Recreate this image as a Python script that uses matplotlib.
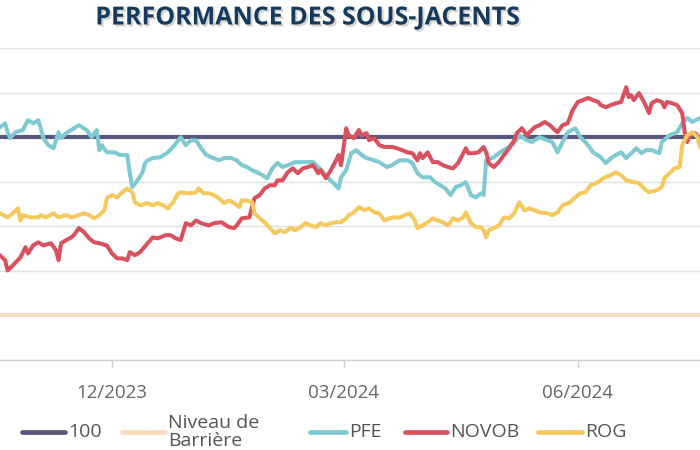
import matplotlib
matplotlib.use("Agg")
import matplotlib.pyplot as plt
import matplotlib.patheffects as pe
from matplotlib.lines import Line2D
import pandas as pd

plt.rcParams['font.family'] = ['Open Sans', 'DejaVu Sans']

START = pd.Timestamp('2023-10-18')

pfe_days = [0, 2, 3, 4, 6, 9, 11, 13, 15, 16, 17, 19, 21, 23, 24, 26, 28, 31, 34, 36, 38, 39, 40, 42, 45, 47, 50, 51, 52, 54, 56, 57, 58, 60, 63, 66, 68, 71,
            73, 75, 77, 79, 81, 83, 86, 88, 91, 93, 95, 97, 99, 101, 103, 105, 107, 109, 111, 113, 116, 119, 121, 123, 125, 127, 129, 131, 133, 134, 136, 138,
            140, 142, 144, 147, 149, 152, 154, 157, 160, 162, 164, 166, 169, 171, 173, 175, 177, 179, 181, 183, 185, 187, 189, 190, 191, 194, 196, 199, 202, 204, 207,
            209, 212, 215, 217, 219, 221, 223, 226, 228, 231, 233, 236, 238, 240, 242, 244, 246, 248, 250, 252, 254, 256, 259, 260, 263, 266, 268, 270, 272, 275]
pfe_vals = [102.2, 103.1, 101.1, 99.8, 101.1, 101.6, 103.8, 103.1, 103.8, 102.0, 99.8, 98.2, 97.5, 101.1, 99.8, 100.9, 101.6, 102.7, 101.6, 100.0, 101.6, 97.1, 98.2, 96.6, 96.6, 96.0, 96.0, 91.9, 88.8, 90.3, 92.1, 94.2, 94.8, 95.3, 95.5, 96.6, 97.8, 100.0,
            98.2, 99.3, 99.3, 97.5, 96.0, 95.5, 94.8, 95.3, 95.3, 94.8, 93.7, 93.3, 92.6, 92.1, 91.5, 90.8, 93.0, 94.2, 93.3, 93.7, 94.4, 94.4, 94.4, 94.4, 93.3, 92.1, 90.8, 89.7, 88.5, 91.0, 92.6, 96.4,
            97.1, 96.0, 95.3, 94.8, 94.4, 93.3, 93.7, 94.8, 94.8, 94.2, 91.9, 91.0, 91.0, 89.9, 89.2, 88.5, 87.0, 88.8, 89.2, 89.9, 87.0, 86.5, 87.4, 87.0, 94.8, 95.5, 96.4, 97.5, 98.7, 100.4, 99.3,
            98.9, 100.0, 99.3, 98.9, 96.6, 98.9, 101.1, 102.0, 100.0, 98.2, 96.6, 95.5, 94.2, 95.3, 96.0, 96.6, 95.3, 96.4, 97.5, 96.4, 97.1, 97.1, 96.4, 98.9, 100.4, 101.1, 103.1, 104.3, 103.4, 104.3]

novob_days = [0, 2, 3, 5, 8, 10, 11, 13, 15, 17, 20, 22, 23, 24, 26, 28, 29, 31, 33, 35, 37, 39, 42, 44, 46, 48, 50, 51, 53, 55, 58, 60, 62, 65, 67, 69, 71,
              73, 75, 77, 79, 82, 84, 87, 90, 92, 93, 95, 98, 99, 100, 102, 104, 106, 108, 109, 111, 113, 115, 117, 119, 121, 123, 125, 126, 128, 130, 132, 133, 134, 136, 137,
              139, 141, 142, 144, 145, 147, 149, 151, 154, 156, 158, 160, 162, 164, 165, 166, 168, 170, 172, 174, 176, 178, 180, 181, 183, 184, 186, 188, 190, 191, 192, 194, 196, 198, 200, 202, 203, 205, 207,
              208, 210, 212, 214, 216, 218, 219, 221, 223, 225, 227, 229, 231, 233, 235, 236, 238, 240, 242, 244, 246, 247, 248, 249, 251, 253, 255, 256, 258, 260, 261, 262, 264, 266, 268, 269, 270, 271, 273, 275]
novob_vals = [73.5, 72.4, 70.1, 71.2, 73.0, 75.3, 73.9, 75.7, 76.4, 75.7, 76.2, 74.6, 72.4, 76.2, 76.9, 77.5, 78.0, 79.6, 78.7, 77.3, 76.4, 76.2, 75.7, 73.9, 72.8, 72.8, 72.4, 74.2, 73.5, 74.2, 76.2, 77.5, 77.3, 78.0, 78.0, 77.3, 76.9,
              80.7, 80.2, 81.3, 80.7, 80.2, 80.7, 80.9, 79.8, 79.6, 80.2, 81.8, 82.0, 84.3, 86.3, 87.0, 88.5, 89.2, 89.2, 90.3, 90.3, 92.1, 93.0, 91.9, 93.0, 93.3, 93.7, 91.9, 92.6, 90.8, 92.6, 94.8, 96.0, 93.7, 102.0, 100.4,
              99.8, 101.6, 100.4, 100.9, 99.3, 99.8, 98.2, 97.8, 97.8, 97.5, 97.1, 96.6, 96.4, 94.8, 96.4, 95.3, 96.6, 94.4, 94.4, 93.7, 93.3, 93.0, 94.2, 95.3, 97.5, 96.4, 96.4, 96.6, 97.8, 96.6, 94.2, 93.3, 94.4, 96.0, 97.5, 99.3, 100.9, 102.0, 100.4,
              101.1, 102.2, 102.7, 103.4, 102.7, 101.6, 101.1, 102.7, 103.1, 106.1, 107.9, 108.3, 108.8, 108.3, 107.9, 107.2, 106.7, 107.2, 107.6, 107.9, 111.2, 109.0, 109.4, 108.3, 109.9, 107.9, 105.4, 107.6, 108.3, 107.9, 106.7, 107.9, 107.6, 107.2, 105.4, 101.1, 98.9, 100.4, 100.9, 99.8]

rog_days = [0, 3, 5, 7, 8, 9, 12, 15, 16, 18, 21, 23, 26, 28, 31, 33, 35, 37, 39, 41, 42, 44, 46, 48, 50, 52, 53, 55, 58, 60, 62, 64, 66, 68, 70,
            71, 74, 77, 78, 80, 82, 84, 86, 88, 90, 92, 94, 95, 97, 99, 100, 102, 104, 106, 108, 110, 112, 114, 116, 118, 120, 122, 124, 126, 128, 130, 132, 134, 136, 137,
            139, 141, 143, 145, 147, 149, 151, 153, 155, 157, 159, 161, 163, 164, 166, 168, 170, 172, 174, 176, 178, 180, 182, 183, 185, 187, 189, 190, 191, 192, 194, 196, 198, 200, 202, 204,
            206, 208, 210, 212, 215, 217, 219, 221, 224, 226, 228, 230, 232, 235, 237, 240, 242, 244, 246, 249, 251, 253, 255, 258, 260, 261, 263, 265, 267, 268, 270, 272, 274, 275]
rog_vals = [82.9, 82.0, 82.9, 84.0, 81.3, 82.5, 82.0, 82.0, 82.5, 82.0, 82.9, 82.0, 82.5, 82.0, 82.5, 82.9, 82.5, 81.8, 82.5, 83.6, 86.3, 87.0, 86.5, 87.6, 88.5, 87.6, 85.4, 84.7, 85.2, 84.7, 85.2, 84.7, 84.0, 85.4, 87.4,
            87.6, 87.4, 87.6, 88.5, 87.4, 87.4, 87.0, 86.3, 85.2, 85.8, 85.2, 84.3, 85.8, 85.8, 85.4, 82.9, 81.8, 80.9, 79.6, 78.4, 79.1, 78.7, 79.6, 79.1, 79.8, 80.7, 80.2, 79.8, 80.7, 80.2, 80.7, 80.9, 80.9, 81.8, 82.5,
            83.1, 84.3, 83.6, 84.0, 83.1, 82.9, 81.3, 81.8, 82.0, 82.0, 82.5, 82.9, 81.3, 79.6, 80.2, 80.9, 81.8, 81.3, 80.9, 80.2, 81.8, 81.3, 82.0, 83.1, 80.7, 79.8, 79.8, 79.1, 77.5, 79.1, 79.6, 80.2, 82.0, 81.8, 82.9, 85.4,
            83.6, 84.0, 83.6, 83.1, 82.9, 82.5, 83.1, 84.7, 85.4, 86.5, 87.4, 87.6, 89.2, 89.9, 90.8, 91.5, 92.1, 91.5, 90.3, 89.9, 89.7, 88.5, 87.6, 88.1, 88.8, 90.8, 91.9, 93.0, 93.3, 98.2, 100.4, 101.1, 100.0, 97.8]

reference_level = 100
barrier_level = 60
y_ticks = [50, 60, 70, 80, 90, 100, 110, 120]
x_tick_dates = ['2023-12-01', '2024-03-01', '2024-06-01']
x_tick_labels = ['12/2023', '03/2024', '06/2024']

title = 'PERFORMANCE DES SOUS-JACENTS'
legend_labels = ['100', 'Niveau de\nBarrière', 'PFE', 'NOVOB', 'ROG']

C_REF = '#58587a'
C_BAR = '#f7dcc0'
C_PFE = '#7fc9d1'
C_NOVO = '#d9505e'
C_ROG = '#f5c95e'

def to_dates(days):
    return START + pd.to_timedelta(days, unit='D')

fig = plt.figure(figsize=(7, 4.5), dpi=100)
ax = fig.add_axes([0, 0.2, 1, 0.6933])

ax.set_xlim(START, START + pd.Timedelta(days=275))
ax.set_ylim(50, 120)
ax.set_yticks(y_ticks)
ax.yaxis.grid(True, color='#e0e0e0', lw=1)
ax.set_axisbelow(True)
ax.tick_params(axis='y', left=False, labelleft=False)
for s in ['top', 'left', 'right']:
    ax.spines[s].set_visible(False)
ax.spines['bottom'].set_color('#d0d0d0')
ax.spines['bottom'].set_linewidth(1)

ax.set_xticks(pd.to_datetime(x_tick_dates))
ax.set_xticklabels(x_tick_labels)
ax.tick_params(axis='x', length=6, color='#d0d0d0', width=1, pad=11,
               labelsize=13.5, labelcolor='#666666')

ax.axhline(reference_level, color=C_REF, lw=3.0, zorder=2)
ax.axhline(barrier_level, color=C_BAR, lw=2.8, zorder=2)
for d, v, c, z in [(pfe_days, pfe_vals, C_PFE, 3), (novob_days, novob_vals, C_NOVO, 4),
                   (rog_days, rog_vals, C_ROG, 5)]:
    ax.plot(to_dates(d), v, color=c, lw=2.9, zorder=z,
            solid_joinstyle='round', solid_capstyle='round')

fig.text(308 / 700, 1 - 18 / 450, title, ha='center', va='center',
         fontsize=18, fontweight='bold', color='#163a5c',
         path_effects=[pe.withSimplePatchShadow(offset=(1.5, -1.5), shadow_rgbFace='#888888', alpha=0.35)])

# legend keys
legend_colors = [C_REF, C_BAR, C_PFE, C_NOVO, C_ROG]
key_x0 = [22, 122, 310, 405, 538]
key_x1 = [65, 165, 346, 447, 582]
ly = 1 - 432 / 450
for c, a, b, lab in zip(legend_colors, key_x0, key_x1, legend_labels):
    fig.add_artist(Line2D([a / 700, b / 700], [ly, ly], color=c, lw=3.4,
                          solid_capstyle='round', transform=fig.transFigure))
    fig.text((b + 3) / 700, ly, lab, ha='left', va='center', fontsize=14,
             color='#555555', linespacing=1.05)

fig.savefig('out.png', dpi=100)
